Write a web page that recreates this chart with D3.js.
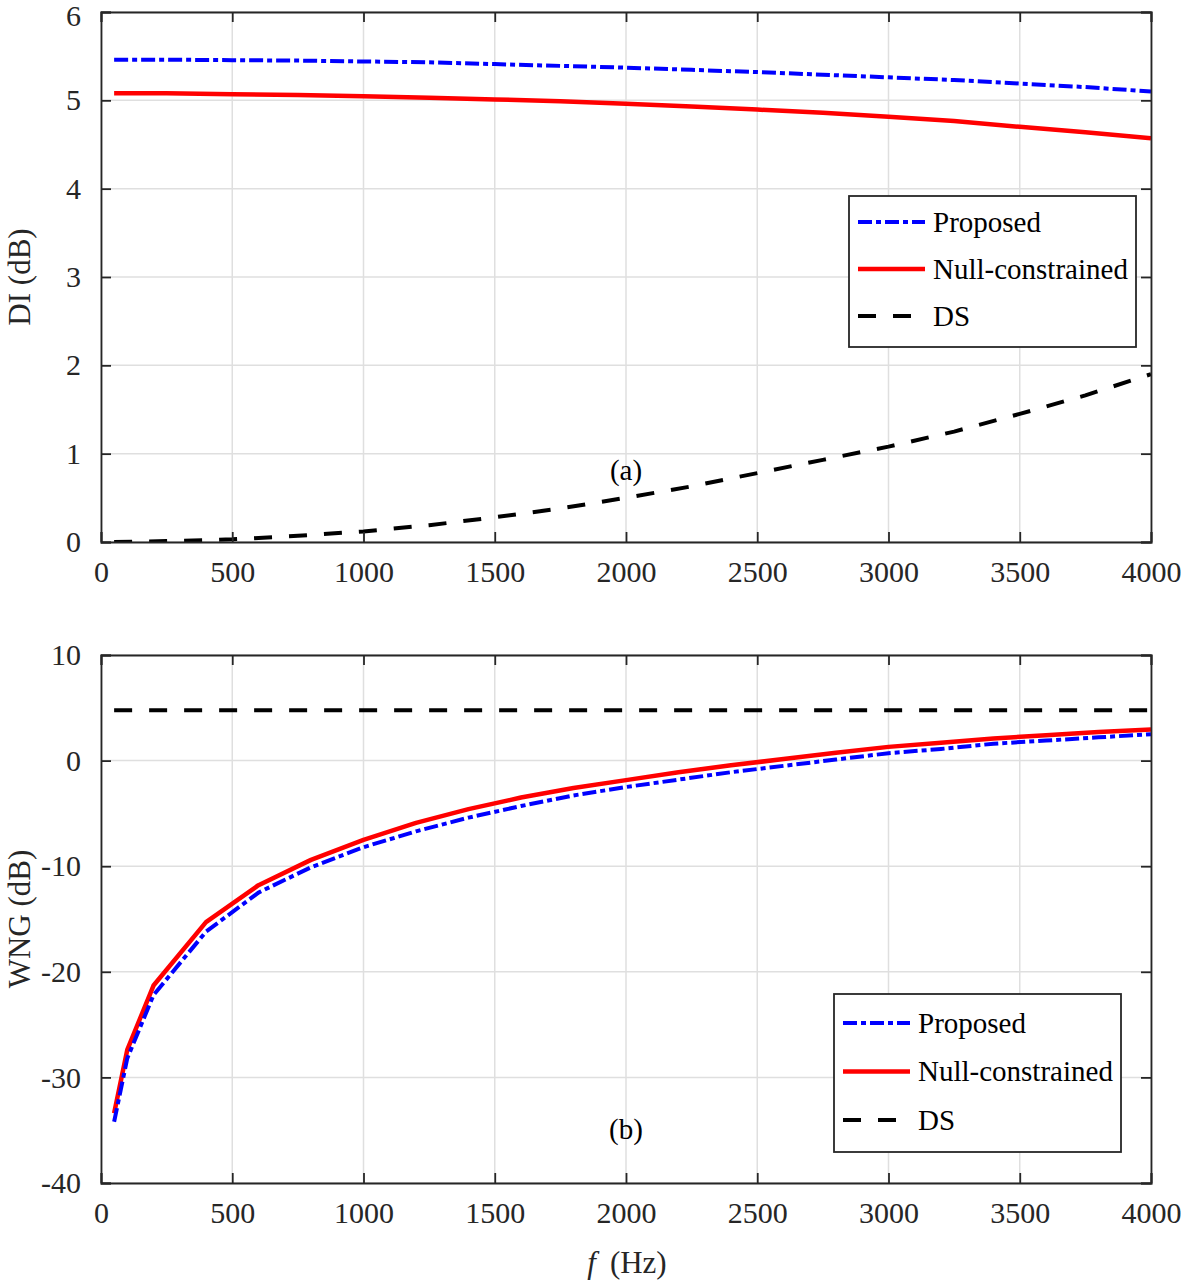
<!DOCTYPE html>
<html><head><meta charset="utf-8">
<script src="https://cdn.jsdelivr.net/npm/d3@7"></script>
<style>body{margin:0;background:#fff}svg{display:block}</style>
</head><body>
<script>
// ---- data ----
const diFreq = [50,250,500,750,1000,1250,1500,1750,2000,2250,2500,2750,3000,3250,3500,3750,4000];
const diProposed = [5.46,5.46,5.455,5.45,5.44,5.43,5.41,5.39,5.37,5.345,5.32,5.29,5.26,5.23,5.19,5.15,5.10];
const diNull = [5.08,5.08,5.07,5.06,5.045,5.03,5.01,4.99,4.96,4.93,4.895,4.86,4.815,4.765,4.70,4.64,4.57];
const diDS = [0.0,0.01,0.03,0.07,0.12,0.19,0.28,0.38,0.50,0.63,0.78,0.93,1.08,1.25,1.45,1.66,1.90];

const wngFreq = [50,100,200,400,600,800,1000,1200,1400,1600,1800,2000,2200,2400,2600,2800,3000,3200,3400,3600,3800,4000];
const wngProposed = [-34.2,-28.2,-22.2,-16.2,-12.5,-10.1,-8.2,-6.7,-5.4,-4.3,-3.3,-2.5,-1.8,-1.1,-0.5,0.1,0.7,1.1,1.6,1.9,2.2,2.5];
const wngNull = [-33.4,-27.4,-21.3,-15.3,-11.8,-9.4,-7.5,-5.9,-4.6,-3.5,-2.6,-1.85,-1.1,-0.45,0.15,0.75,1.3,1.7,2.1,2.4,2.7,2.95];
const wngDS = wngFreq.map(() => 4.77);

const xTicks = [0,500,1000,1500,2000,2500,3000,3500,4000];
const diTicks = [0,1,2,3,4,5,6];
const wngTicks = [-40,-30,-20,-10,0,10];
const seriesNames = ["Proposed","Null-constrained","DS"];

// ---- styles ----
const styles = {
  "Proposed": {color:"#0000ff", dash:"14,4,5,4", width:4},
  "Null-constrained": {color:"#ff0000", dash:null, width:4.5},
  "DS": {color:"#000000", dash:"18,17", width:4}
};
const FONT = "'Liberation Serif','DejaVu Serif',serif";
const fmt = d => String(d); // plain hyphen minus like the reference

const W = 1181, H = 1280;
const svg = d3.select("body").append("svg").attr("width",W).attr("height",H)
  .style("font-family",FONT);

function panel(opts){
  const {top, bottom, yDomain, yTicks, freq, series, yLabel, tag, tagY, legend} = opts;
  const left = 101, right = 1151;
  const x = d3.scaleLinear().domain([0,4000]).range([left,right]);
  const y = d3.scaleLinear().domain(yDomain).range([bottom,top]);
  const g = svg.append("g");
  // grid
  g.append("g").selectAll("line").data(xTicks).join("line")
    .attr("x1",d=>x(d)).attr("x2",d=>x(d)).attr("y1",top).attr("y2",bottom)
    .attr("stroke","#dfdfdf").attr("stroke-width",1.5);
  g.append("g").selectAll("line").data(yTicks).join("line")
    .attr("y1",d=>y(d)).attr("y2",d=>y(d)).attr("x1",left).attr("x2",right)
    .attr("stroke","#dfdfdf").attr("stroke-width",1.5);
  // lines
  const clipId = "clip"+tag.replace(/\W/g,"");
  svg.append("clipPath").attr("id",clipId).append("rect")
    .attr("x",left).attr("y",top).attr("width",right-left).attr("height",bottom-top);
  const lg = g.append("g").attr("clip-path",`url(#${clipId})`);
  const line = d3.line().x((d,i)=>x(freq[i])).y(d=>y(d));
  ["DS","Null-constrained","Proposed"].forEach(name=>{
    const s = styles[name];
    lg.append("path").datum(series[name]).attr("d",line)
      .attr("fill","none").attr("stroke",s.color).attr("stroke-width",s.width)
      .attr("stroke-dasharray",s.dash).attr("stroke-linejoin","round");
  });
  // axes (ticks inside)
  const axC = "#262626";
  const ax = g.append("g");
  const xb = d3.axisBottom(x).tickValues(xTicks).tickSize(-10).tickPadding(19).tickFormat(fmt);
  const xt = d3.axisTop(x).tickValues(xTicks).tickSize(-10).tickFormat("");
  const yl = d3.axisLeft(y).tickValues(yTicks).tickSize(-10).tickPadding(20).tickFormat(fmt);
  const yr = d3.axisRight(y).tickValues(yTicks).tickSize(-10).tickFormat("");
  [[xb,`translate(0,${bottom})`],[xt,`translate(0,${top})`],[yl,`translate(${left},0)`],[yr,`translate(${right},0)`]]
    .forEach(([a,t])=>{
      const gg = ax.append("g").attr("transform",t).call(a);
      gg.select(".domain").attr("stroke",axC).attr("stroke-width",1.8);
      gg.selectAll(".tick line").attr("stroke",axC).attr("stroke-width",1.8);
      gg.selectAll(".tick text").attr("fill","#262626").style("font-size","30px").style("font-family",FONT);
    });
  // keep the topmost y tick label inside the page
  ax.selectAll(".tick text").filter(function(){ return this.getBoundingClientRect().top < 1; })
    .attr("dy","0.45em");
  // y label
  g.append("text").attr("transform",`translate(${30},${(top+bottom)/2}) rotate(-90)`)
    .attr("text-anchor","middle").style("font-size","31px").attr("fill","#262626").text(yLabel);
  // tag
  g.append("text").attr("x",x(2000)).attr("y",tagY).attr("text-anchor","middle")
    .style("font-size","29px").attr("fill","#000").text(tag);
  // legend
  const L = legend;
  const lgG = g.append("g");
  lgG.append("rect").attr("x",L.x).attr("y",L.y).attr("width",L.w).attr("height",L.h)
    .attr("fill","#fff").attr("stroke","#262626").attr("stroke-width",1.8);
  seriesNames.forEach((name,i)=>{
    const s = styles[name];
    const yy = L.y + L.first + i*L.step;
    lgG.append("line").attr("x1",L.x+9).attr("x2",L.x+76).attr("y1",yy).attr("y2",yy)
      .attr("stroke",s.color).attr("stroke-width",s.width).attr("stroke-dasharray",s.dash);
    lgG.append("text").attr("x",L.x+84).attr("y",yy).attr("dy","0.33em")
      .style("font-size","29px").attr("fill","#000").text(name);
  });
}

panel({top:12,bottom:542,yDomain:[0,6],yTicks:diTicks,freq:diFreq,
  series:{"Proposed":diProposed,"Null-constrained":diNull,"DS":diDS},
  yLabel:"DI (dB)",tag:"(a)",tagY:480,
  legend:{x:849,y:196,w:287,h:151,first:26,step:47}});

panel({top:655,bottom:1183,yDomain:[-40,10],yTicks:wngTicks,freq:wngFreq,
  series:{"Proposed":wngProposed,"Null-constrained":wngNull,"DS":wngDS},
  yLabel:"WNG (dB)",tag:"(b)",tagY:1139,
  legend:{x:834,y:994,w:287,h:158,first:29,step:48.5}});

// x label
const xl = svg.append("text").attr("x",627).attr("y",1273).attr("text-anchor","middle")
  .style("font-size","31px").attr("fill","#262626");
xl.append("tspan").style("font-style","italic").text("f");
xl.append("tspan").text("\u2009 (Hz)");
</script>
</body></html>
